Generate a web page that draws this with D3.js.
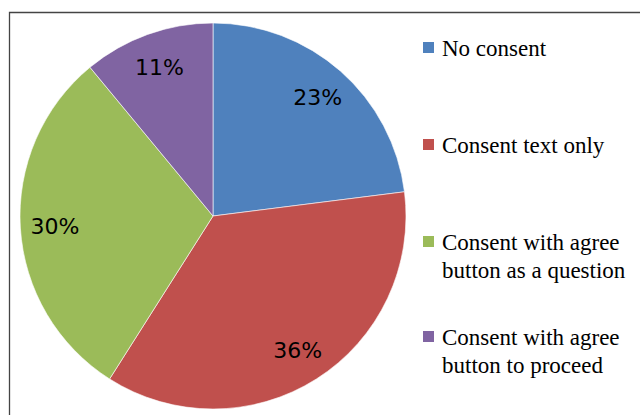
<!DOCTYPE html>
<html>
<head>
<meta charset="utf-8">
<script src="https://cdn.jsdelivr.net/npm/d3@7"></script>
<style>
  body { margin: 0; background: #fff; }
  svg { display: block; }
</style>
</head>
<body>
<div class="vis-pie"></div>
<script>
const categories = ["No consent", "Consent text only", "Consent with agree button as a question", "Consent with agree button to proceed"];
const values = [23, 36, 30, 11];
const legendLines = [["No consent"], ["Consent text only"], ["Consent with agree", "button as a question"], ["Consent with agree", "button to proceed"]];
const colors = ["#4F81BD", "#C0504D", "#9BBB59", "#8064A2"];

const width = 640, height = 415;
const cx = 213, cy = 216, radius = 193;

const svg = d3.select(".vis-pie")
  .append("svg")
  .attr("width", width)
  .attr("height", height);

// chart frame (only top & left visible in the crop)
svg.append("path")
  .attr("d", `M9.5,${height + 2}V12.5H${width + 2}`)
  .attr("fill", "none")
  .attr("stroke", "#444")
  .attr("stroke-width", 1.3);

const data = categories.map((c, i) => ({ name: c, value: values[i], color: colors[i], lines: legendLines[i] }));

const pie = d3.pie().value(d => d.value).sort(null);
const arc = d3.arc().innerRadius(0).outerRadius(radius);
const labelArc = d3.arc().innerRadius(radius * 0.82).outerRadius(radius * 0.82);

const g = svg.append("g").attr("transform", `translate(${cx},${cy})`);
const arcs = pie(data);

g.selectAll("path")
  .data(arcs)
  .join("path")
  .attr("d", arc)
  .attr("fill", d => d.data.color)
  .attr("stroke", "#fff")
  .attr("stroke-width", 0.6);

g.selectAll("text")
  .data(arcs)
  .join("text")
  .attr("transform", d => `translate(${labelArc.centroid(d)})`)
  .attr("text-anchor", "middle")
  .attr("dy", "0.36em")
  .style("font", "22px 'DejaVu Sans', Verdana, sans-serif")
  .attr("fill", "#000")
  .text(d => d.data.value + "%");

// legend
const legendY = [48, 145, 242, 337];
const legend = svg.append("g");
const item = legend.selectAll("g")
  .data(data)
  .join("g")
  .attr("transform", (d, i) => `translate(423,${legendY[i]})`);

item.append("rect")
  .attr("x", 0)
  .attr("y", -6)
  .attr("width", 11)
  .attr("height", 11)
  .attr("fill", d => d.color);

item.append("text")
  .style("font", "23px 'Liberation Serif', 'Times New Roman', serif")
  .attr("fill", "#000")
  .selectAll("tspan")
  .data(d => d.lines)
  .join("tspan")
  .attr("x", 19)
  .attr("y", (d, i) => i * 28)
  .attr("dy", "0.35em")
  .text(d => d);
</script>
</body>
</html>
